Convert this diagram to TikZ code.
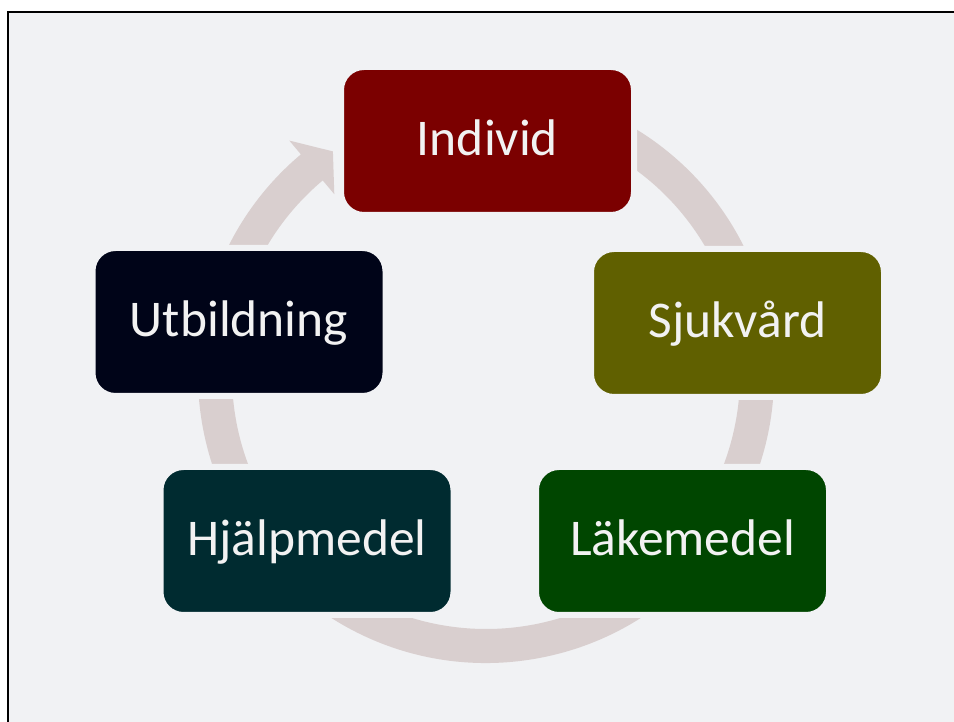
\documentclass[tikz,border=0pt]{standalone}
\usepackage{fontspec}
\setmainfont{Carlito}
\definecolor{bg}{HTML}{F1F2F4}
\definecolor{ringc}{HTML}{D9CFCF}
\definecolor{txt}{HTML}{F2F2F2}
\definecolor{cInd}{HTML}{7B0000}
\definecolor{cSju}{HTML}{606000}
\definecolor{cLak}{HTML}{004600}
\definecolor{cHja}{HTML}{002B30}
\definecolor{cUtb}{HTML}{000418}
\tikzset{
  box/.style={rounded corners=23pt, minimum width=293pt, minimum height=148pt,
    line width=6pt, draw=bg, text=txt, inner sep=0pt,
    font=\fontsize{51.5}{60}\selectfont, text height=35pt, text depth=5pt},
  ringfill/.style={fill=ringc}
}
\begin{document}
\begin{tikzpicture}[x=1pt,y=1pt]
\useasboundingbox (0,0) rectangle (954,722);
\fill[white] (0,0) rectangle (954,722);
\fill[bg] (8,0) rectangle (954,710);
\draw[line width=2pt,black] (8,0) -- (8,710) -- (954,710);
% circular arrow
\begin{scope}[shift={(486,347)}]
\fill[ringfill] (100:288) arc[start angle=100,end angle=-230,radius=288]
  -- (-230:306) -- (-235.6:271) -- (-230:236) -- (-230:254)
  arc[start angle=-230,end angle=100,radius=254] -- cycle;
\end{scope}
% boxes
\node[box,fill=cInd] (ind) at (487.5,581) {Individ};
\node[box,fill=cSju] (sju) at (737.5,399) {Sjukvård};
\node[box,fill=cLak] (lak) at (682.5,181) {Läkemedel};
\node[box,fill=cHja] (hja) at (307,181) {Hjälpmedel};
\node[box,fill=cUtb] (utb) at (239,400) {Utbildning};
\end{tikzpicture}
\end{document}
